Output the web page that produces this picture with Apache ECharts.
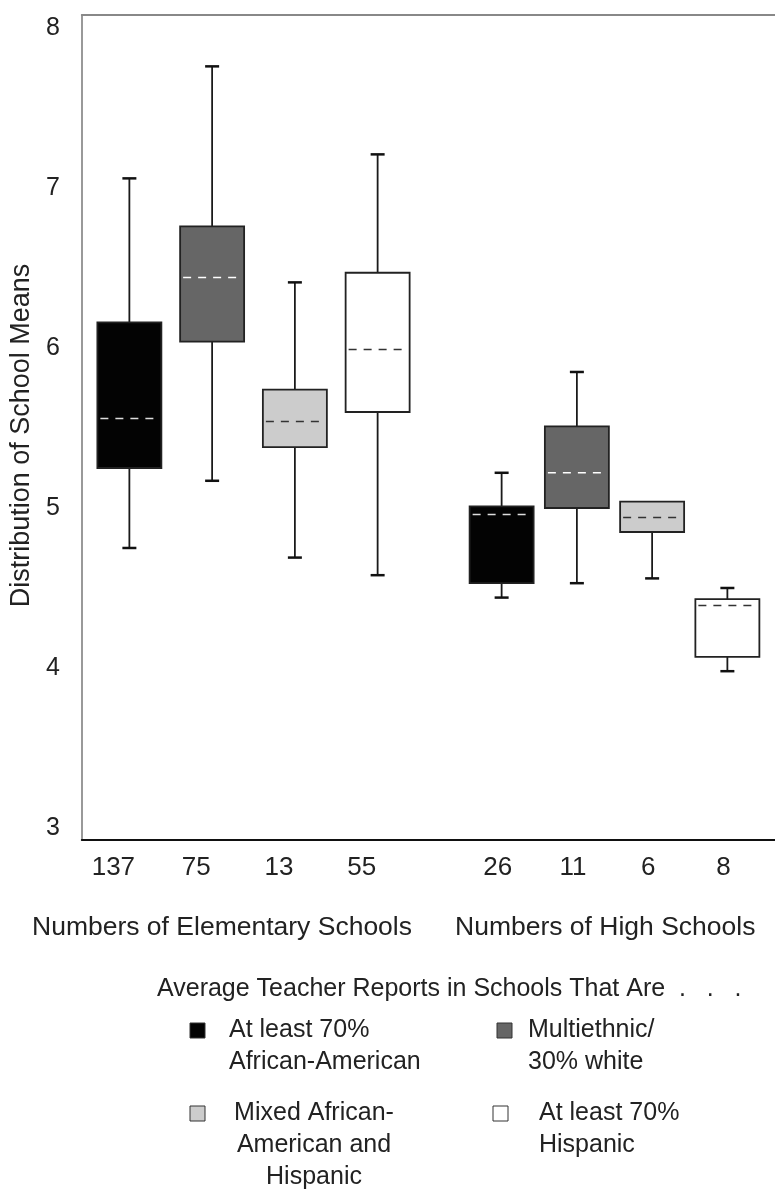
<!DOCTYPE html>
<html>
<head>
<meta charset="utf-8">
<script src="https://cdn.jsdelivr.net/npm/echarts@6/dist/echarts.min.js"></script>
<style>
html, body { margin: 0; padding: 0; background: #fff; }
#chart { width: 775px; height: 1189px; }
</style>
</head>
<body>
<div id="chart"></div>
<script>
// number of schools under each box
var elemCounts = ['137', '75', '13', '55'];
var highCounts = ['26', '11', '6', '8'];
// five-number summaries: 4 elementary boxes then 4 high school boxes
var boxMin    = [4.75, 5.17, 4.69, 4.58, 4.44, 4.53, 4.56, 3.98];
var boxQ1     = [5.25, 6.04, 5.38, 5.60, 4.53, 5.00, 4.85, 4.07];
var boxMedian = [5.56, 6.44, 5.54, 5.99, 4.96, 5.22, 4.94, 4.39];
var boxQ3     = [6.16, 6.76, 5.74, 6.47, 5.01, 5.51, 5.04, 4.43];
var boxMax    = [7.06, 7.76, 6.41, 7.21, 5.22, 5.85, 5.04, 4.50];
var boxGroup  = [0, 1, 2, 3, 0, 1, 2, 3];
var groupNames = ['At least 70%\nAfrican-American', 'Multiethnic/\n30% white',
                  'Mixed African-\nAmerican and\nHispanic', 'At least 70%\nHispanic'];
var yTicks = [3, 4, 5, 6, 7, 8];

var fills = ['#030303', '#666666', '#cccccc', '#ffffff'];
var medianColors = ['#dddddd', '#ffffff', '#333333', '#333333'];
var FONT = '"Liberation Sans", Arial, sans-serif';
var TXT = '#222';
var YMIN = 2.925, YMAX = 8.081;
var BOX_W = 64;

function makeData(from, to) {
    var out = [];
    for (var i = from; i < to; i++) {
        out.push([i - from, boxMin[i], boxQ1[i], boxMedian[i], boxQ3[i], boxMax[i], boxGroup[i]]);
    }
    return out;
}

function renderBox(params, api) {
    var slot = api.value(0);
    var g = api.value(6);
    var pMin = api.coord([slot, api.value(1)]);
    var pQ1 = api.coord([slot, api.value(2)]);
    var pMed = api.coord([slot, api.value(3)]);
    var pQ3 = api.coord([slot, api.value(4)]);
    var pMax = api.coord([slot, api.value(5)]);
    var x = pMin[0], h = BOX_W / 2, cap = 7;
    var kids = [];
    var wStyle = { stroke: '#1a1a1a', lineWidth: 1.8 };
    var cStyle = { stroke: '#111', lineWidth: 2.5 };
    if (api.value(5) > api.value(4)) {
        kids.push({ type: 'line', shape: { x1: x, y1: pQ3[1], x2: x, y2: pMax[1] }, style: wStyle });
        kids.push({ type: 'line', shape: { x1: x - cap, y1: pMax[1], x2: x + cap, y2: pMax[1] }, style: cStyle });
    }
    if (api.value(1) < api.value(2)) {
        kids.push({ type: 'line', shape: { x1: x, y1: pQ1[1], x2: x, y2: pMin[1] }, style: wStyle });
        kids.push({ type: 'line', shape: { x1: x - cap, y1: pMin[1], x2: x + cap, y2: pMin[1] }, style: cStyle });
    }
    kids.push({ type: 'rect', shape: { x: x - h, y: pQ3[1], width: BOX_W, height: pQ1[1] - pQ3[1] },
        style: { fill: fills[g], stroke: '#222', lineWidth: 1.8 } });
    kids.push({ type: 'line', shape: { x1: x - h + 3, y1: pMed[1], x2: x + h - 4, y2: pMed[1] },
        style: { stroke: medianColors[g], lineWidth: 1.5, lineDash: [8, 7] } });
    return { type: 'group', children: kids };
}

// group titles and legend drawn as plain graphics
var legendGraphics = [
    { type: 'text', left: 157, top: 977, style: { text: 'Average Teacher Reports in Schools That Are  .   .   .', font: '25px ' + FONT, fill: TXT } },
    { type: 'text', left: 32, top: 914, style: { text: 'Numbers of Elementary Schools', font: '26.5px ' + FONT, fill: TXT } },
    { type: 'text', left: 455, top: 914, style: { text: 'Numbers of High Schools', font: '26.5px ' + FONT, fill: TXT } }
];
var legPos = [
    { sx: 190, sy: 1023, tx: 229, ty: 1014, align: 'left' },
    { sx: 497, sy: 1023, tx: 528, ty: 1014, align: 'left' },
    { sx: 190, sy: 1106, tx: 314, ty: 1097, align: 'center' },
    { sx: 493, sy: 1106, tx: 539, ty: 1097, align: 'left' }
];
for (var k = 0; k < groupNames.length; k++) {
    var p = legPos[k];
    legendGraphics.push({ type: 'rect', shape: { x: p.sx, y: p.sy, width: 15, height: 15 },
        style: { fill: fills[k], stroke: '#333', lineWidth: 1 } });
    legendGraphics.push({ type: 'text', x: p.tx, y: p.ty,
        style: { text: groupNames[k], font: '25px ' + FONT, fill: TXT, align: p.align, verticalAlign: 'top', lineHeight: 32 } });
}

var countLabel = { color: TXT, fontSize: 26, fontFamily: FONT, margin: 15, interval: 0 };

var myChart = echarts.init(document.getElementById('chart'));
var option = {
    backgroundColor: '#fff',
    animation: false,
    grid: [
        { left: 79, right: 0, top: 15, bottom: 349 },      // frame
        { left: 88, width: 331, top: 15, bottom: 349 },    // elementary schools
        { left: 464, width: 301, top: 15, bottom: 349 }    // high schools
    ],
    xAxis: [
        {
            type: 'value', gridIndex: 0, min: 0, max: 1,
            axisLine: { show: true, lineStyle: { color: '#111', width: 2 } },
            axisTick: { show: false }, axisLabel: { show: false }, splitLine: { show: false }
        },
        {
            type: 'value', gridIndex: 0, min: 0, max: 1, position: 'top',
            axisLine: { show: true, lineStyle: { color: '#888', width: 2 } },
            axisTick: { show: false }, axisLabel: { show: false }, splitLine: { show: false }
        },
        {
            type: 'category', gridIndex: 1, data: elemCounts,
            axisLine: { show: false }, axisTick: { show: false },
            axisLabel: echarts.util.extend({ padding: [0, 32, 0, 0] }, countLabel)
        },
        {
            type: 'category', gridIndex: 2, data: highCounts,
            axisLine: { show: false }, axisTick: { show: false },
            axisLabel: echarts.util.extend({ padding: [0, 8, 0, 0] }, countLabel)
        }
    ],
    yAxis: [
        {
            type: 'value', gridIndex: 0, min: YMIN, max: YMAX,
            name: 'Distribution of School Means', nameLocation: 'middle', nameRotate: 90, nameGap: 46,
            nameTextStyle: { color: TXT, fontSize: 27, fontFamily: FONT, padding: [0, 16, 0, 0] },
            axisLine: { show: true, lineStyle: { color: '#777', width: 1.5 } },
            axisTick: { show: false },
            splitLine: { show: false },
            axisLabel: { customValues: yTicks, color: TXT, fontSize: 25, fontFamily: FONT, margin: 22 }
        },
        { type: 'value', gridIndex: 1, min: YMIN, max: YMAX, show: false, splitLine: { show: false } },
        { type: 'value', gridIndex: 2, min: YMIN, max: YMAX, show: false, splitLine: { show: false } }
    ],
    graphic: legendGraphics,
    series: [
        {
            type: 'custom', name: 'Elementary',
            xAxisIndex: 2, yAxisIndex: 1,
            renderItem: renderBox,
            encode: { x: 0, y: [1, 2, 3, 4, 5] },
            data: makeData(0, 4)
        },
        {
            type: 'custom', name: 'High',
            xAxisIndex: 3, yAxisIndex: 2,
            renderItem: renderBox,
            encode: { x: 0, y: [1, 2, 3, 4, 5] },
            data: makeData(4, 8)
        }
    ]
};
myChart.setOption(option);
</script>
</body>
</html>
